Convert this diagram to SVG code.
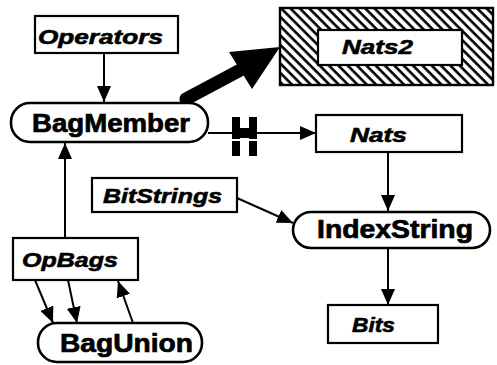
<svg xmlns="http://www.w3.org/2000/svg" width="497" height="365" viewBox="0 0 497 365">
  <defs>
    <style>
      .box { fill: #fff; stroke: #000; stroke-width: 2.2; }
      .pill { fill: #fff; stroke: #000; stroke-width: 2.6; }
      .lbl { font-family: "Liberation Sans", Arial, sans-serif; font-weight: bold; font-style: italic; font-size: 21px; fill: #000; stroke: #000; stroke-width: 0.6; }
      .plbl { font-family: "Liberation Sans", Arial, sans-serif; font-weight: bold; font-size: 25px; fill: #000; stroke: #000; stroke-width: 0.7; }
      .edge { fill: none; stroke: #000; stroke-width: 2; }
    </style>
    <marker id="arrow" markerUnits="userSpaceOnUse" markerWidth="17" markerHeight="14" refX="16" refY="7" orient="auto">
      <path d="M0,0 L16,7 L0,14 Z" fill="#000"/>
    </marker>
    <pattern id="hatch" patternUnits="userSpaceOnUse" width="6.6" height="6.6" patternTransform="rotate(-45)">
      <rect width="6.6" height="6.6" fill="#fff"/>
      <line x1="1.5" y1="0" x2="1.5" y2="6.6" stroke="#000" stroke-width="2.6"/>
    </pattern>
  </defs>

  <!-- connectors -->
  <g id="connectors">
    <line class="edge" x1="104" y1="53" x2="104" y2="102" marker-end="url(#arrow)"/>
    <line class="edge" x1="65" y1="238" x2="65" y2="143" marker-end="url(#arrow)"/>
    <line class="edge" x1="237" y1="198" x2="293" y2="223" marker-end="url(#arrow)"/>
    <line class="edge" x1="388" y1="152" x2="388" y2="211" marker-end="url(#arrow)"/>
    <line class="edge" x1="388" y1="248" x2="388" y2="305" marker-end="url(#arrow)"/>
    <line class="edge" x1="208" y1="133" x2="316" y2="133" marker-end="url(#arrow)"/>
    <!-- blocked link symbol on BagMember -> Nats -->
    <g id="block" fill="#000">
      <rect x="232" y="117" width="8" height="22"/>
      <rect x="232" y="141" width="8" height="15"/>
      <rect x="249" y="117" width="8" height="22"/>
      <rect x="249" y="141" width="8" height="15"/>
      <rect x="238" y="128" width="13" height="10"/>
    </g>
    <!-- heavy arrow BagMember -> Nats2 -->
    <line x1="186" y1="99" x2="246" y2="67" stroke="#000" stroke-width="13" stroke-linecap="round"/>
    <polygon points="280,47 229,52 252,89" fill="#000"/>
    <!-- OpBags <-> BagUnion -->
    <line class="edge" x1="35" y1="280" x2="53" y2="323" marker-end="url(#arrow)"/>
    <line class="edge" x1="68" y1="280" x2="77" y2="323" marker-end="url(#arrow)"/>
    <line class="edge" x1="133" y1="323" x2="118" y2="281" marker-end="url(#arrow)"/>
  </g>

  <g id="operators">
    <rect class="box" x="35" y="16" width="143" height="37"/>
    <text class="lbl" x="38" y="44" textLength="125" lengthAdjust="spacingAndGlyphs">Operators</text>
  </g>

  <g id="bagmember">
    <rect class="pill" x="11" y="103" width="197" height="39" rx="19"/>
    <text class="plbl" x="32" y="132" textLength="158" lengthAdjust="spacingAndGlyphs">BagMember</text>
  </g>

  <g id="nats2">
    <rect x="280" y="8" width="213" height="77" fill="url(#hatch)" stroke="#000" stroke-width="2.4"/>
    <rect class="box" x="318" y="30" width="144" height="35"/>
    <text class="lbl" x="342" y="54" textLength="71" lengthAdjust="spacingAndGlyphs">Nats2</text>
  </g>

  <g id="nats">
    <rect class="box" x="316" y="115" width="146" height="37"/>
    <text class="lbl" x="350" y="142" textLength="57" lengthAdjust="spacingAndGlyphs">Nats</text>
  </g>

  <g id="bitstrings">
    <rect class="box" x="92" y="178" width="145" height="34"/>
    <text class="lbl" x="103" y="203" textLength="119" lengthAdjust="spacingAndGlyphs">BitStrings</text>
  </g>

  <g id="indexstring">
    <rect class="pill" x="293" y="212" width="197" height="36" rx="18"/>
    <text class="plbl" x="317" y="238" textLength="156" lengthAdjust="spacingAndGlyphs">IndexString</text>
  </g>

  <g id="opbags">
    <rect class="box" x="13" y="238" width="125" height="42"/>
    <text class="lbl" x="22" y="267" textLength="96" lengthAdjust="spacingAndGlyphs">OpBags</text>
  </g>

  <g id="bagunion">
    <rect class="pill" x="38" y="323" width="164" height="39" rx="19"/>
    <text class="plbl" x="60" y="352" textLength="133" lengthAdjust="spacingAndGlyphs">BagUnion</text>
  </g>

  <g id="bits">
    <rect class="box" x="328" y="305" width="110" height="38"/>
    <text class="lbl" x="352" y="332" textLength="43" lengthAdjust="spacingAndGlyphs">Bits</text>
  </g>
</svg>
